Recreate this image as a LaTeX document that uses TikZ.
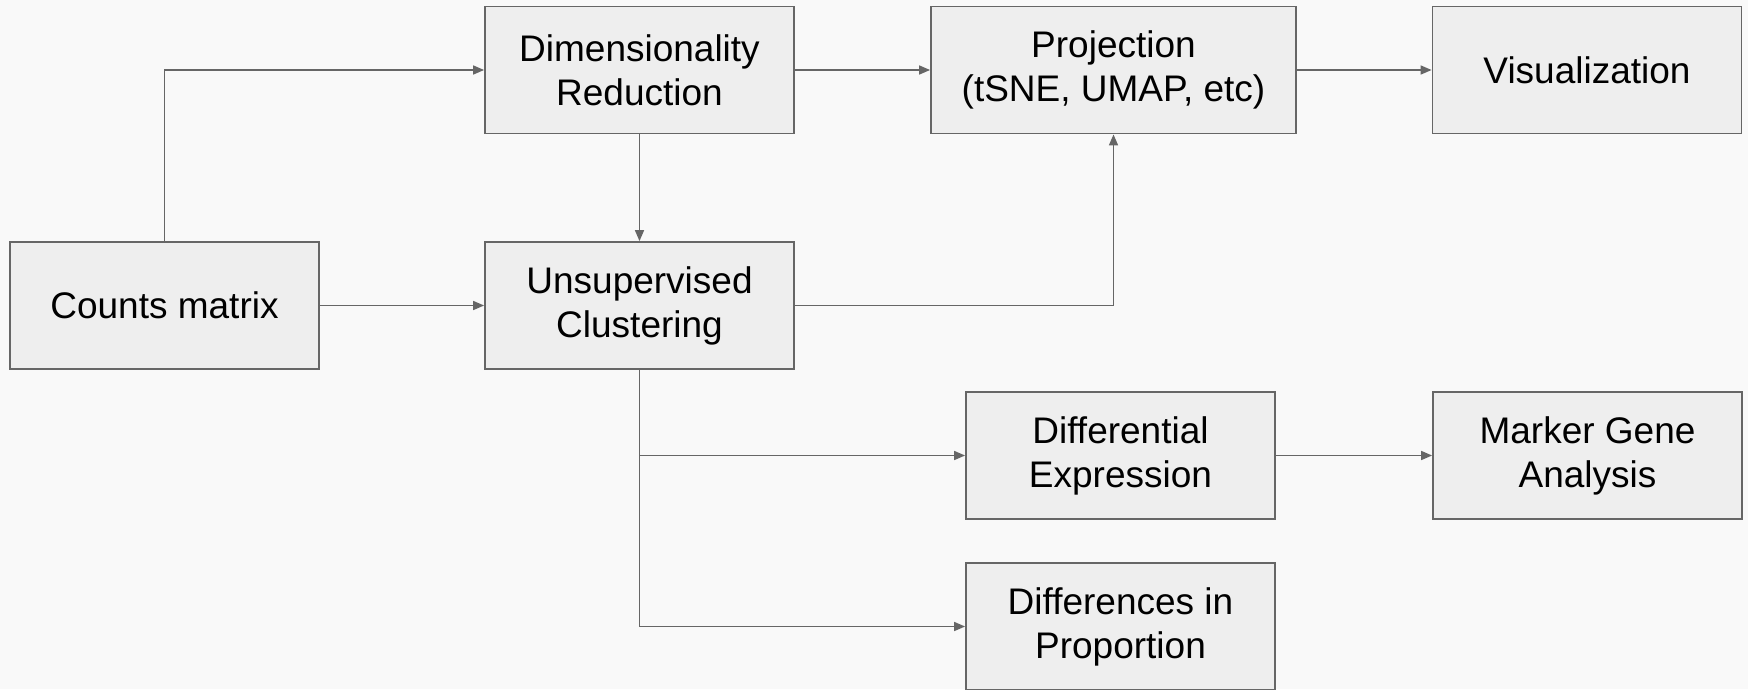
\documentclass[tikz,border=0pt]{standalone}
\usepackage{fontspec}
\setmainfont{Liberation Sans}
\usetikzlibrary{arrows.meta}
\definecolor{bgc}{HTML}{F9F9F9}
\definecolor{boxfill}{HTML}{EEEEEE}
\definecolor{edgec}{HTML}{666666}
\begin{document}
\begin{tikzpicture}[x=1pt,y=-1pt,
  box/.style={draw=edgec, fill=boxfill, line width=1.8pt, rectangle, inner sep=0pt,
    minimum width=309pt, minimum height=127pt, align=center,
    font=\fontsize{37}{44}\selectfont, text=black},
  conn/.style={draw=edgec, line width=1.6pt, -{Triangle[length=11pt,width=9pt]}},
  plain/.style={draw=edgec, line width=1.6pt}]
\fill[bgc] (0,0) rectangle (1748,689);
\useasboundingbox (0,0) rectangle (1748,689);
\node[box] (cm) at (164.5,305.5) {Counts matrix};
\node[box] (dr) at (639.5,70) {Dimensionality\\Reduction};
\node[box, minimum width=365pt] (pj) at (1113.5,70) {Projection\\(tSNE, UMAP, etc)};
\node[box] (vis) at (1587,70) {Visualization};
\node[box] (uc) at (639.5,305.5) {Unsupervised\\Clustering};
\node[box] (de) at (1120.5,455.5) {Differential\\Expression};
\node[box] (mg) at (1587.5,455.5) {Marker Gene\\Analysis};
\node[box] (dp) at (1120.5,626.5) {Differences in\\Proportion};
\draw[conn] (cm.north) |- (dr.west);
\draw[conn] (cm.east) -- (uc.west);
\draw[conn] (dr.south) -- (uc.north);
\draw[conn] (dr.east) -- (pj.west);
\draw[conn] (pj.east) -- (vis.west);
\draw[conn] (uc.east) -| (pj.south);
\draw[conn] (uc.south) |- (de.west);
\draw[conn] (uc.south) |- (dp.west);
\draw[conn] (de.east) -- (mg.west);
\end{tikzpicture}
\end{document}
